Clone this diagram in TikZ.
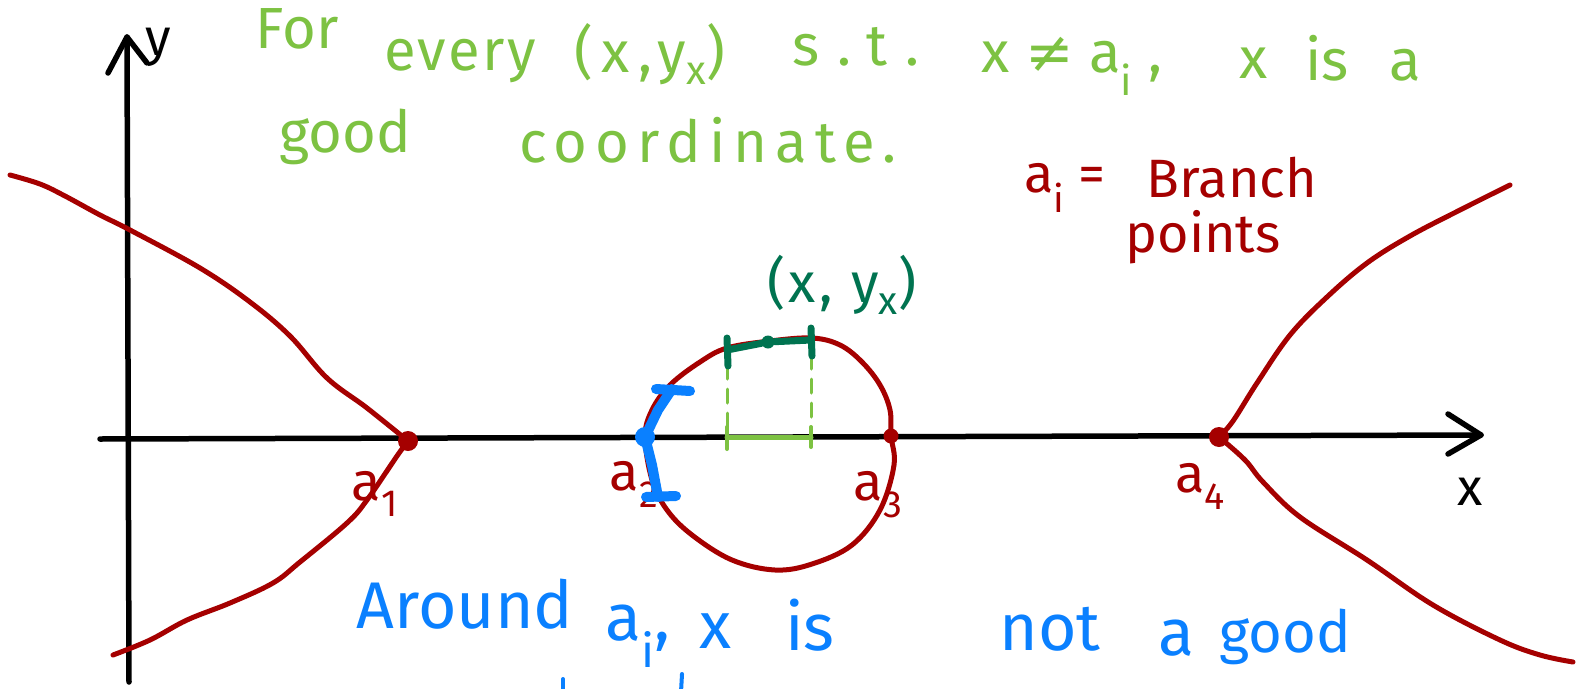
\documentclass[tikz,border=0pt]{standalone}
\usepackage{fontspec}
\setmainfont{Fira Sans}
\newfontfamily\symfont{DejaVu Sans}
\definecolor{bred}{RGB}{165,0,0}
\definecolor{lgreen}{RGB}{125,194,66}
\definecolor{dgreen}{RGB}{0,115,80}
\definecolor{bblue}{RGB}{10,128,255}
\newcommand{\spread}[1]{\addfontfeature{LetterSpace=#1}}
\tikzset{
  redline/.style={draw=bred, line width=5pt, line cap=round, line join=round},
  axisline/.style={draw=black, line width=5.5pt, line cap=round, line join=round},
  reddot/.style={circle, fill=bred, inner sep=0pt, minimum size=#1},
  reddot/.default=20pt,
  gtext/.style={text=lgreen, font=\fontsize{58}{60}\selectfont, anchor=base, inner sep=0pt},
  rtext/.style={text=bred, font=\fontsize{54}{56}\selectfont, anchor=base, inner sep=0pt},
  btext/.style={text=bblue, font=\fontsize{66}{70}\selectfont, anchor=base, inner sep=0pt},
  dgtext/.style={text=dgreen, font=\fontsize{56}{58}\selectfont, anchor=base, inner sep=0pt},
  ktext/.style={text=black, font=\fontsize{52}{54}\selectfont, anchor=base, inner sep=0pt},
  blueseg/.style={draw=bblue, line width=10pt, line cap=round, line join=round},
  dgseg/.style={draw=dgreen, line width=7pt, line cap=round, line join=round},
  lgseg/.style={draw=lgreen, line width=4pt, line cap=round},
}
\begin{document}
\begin{tikzpicture}[x=1pt,y=-1pt]
\useasboundingbox (0,0) rectangle (1578,688);
\clip (0,0) rectangle (1578,688);
\fill[white] (0,0) rectangle (1578,688);

% axes
\coordinate (xs) at (100,439);
\coordinate (xe) at (1481,435);
\coordinate (ys) at (129,682);
\coordinate (ye) at (127,37);
\draw[axisline] (xs) -- (xe);
\draw[axisline] (xe) ++(-33,-21) -- (xe) -- ++(-33,19);
\draw[axisline] (ys) -- (ye);
\draw[axisline] (ye) ++(-19,36) -- (ye) -- ++(20,26);
\node[ktext] (ylab) at (158,55) {y};
\node[ktext] (xlab) at (1470,505) {x};

% branch points
\node[reddot] (a1) at (408,441) {};
\node[reddot=15pt] (a2) at (645,437) {};
\node[reddot=15pt] (a3) at (891,436) {};
\node[reddot] (a4) at (1219,437) {};

% left curve
\draw[redline] plot[smooth, tension=0.6] coordinates {(10,175) (40,184) (65,196) (100,215) (130,230) (200,268) (250,302) (290,336) (327,378) (367,408) (a1)};
\draw[redline] plot[smooth, tension=0.6] coordinates {(a1) (397,456) (367,500) (347,523) (300,562) (273,583) (230,603) (187,620) (150,640) (113,655)};

% right curve
\draw[redline] plot[smooth, tension=0.6] coordinates {(a4) (1233,421) (1257,383) (1290,335) (1327,297) (1367,263) (1410,236) (1460,210) (1510,185)};
\draw[redline] plot[smooth, tension=0.6] coordinates {(a4) (1245,460) (1263,482) (1300,517) (1367,560) (1433,605) (1500,640) (1540,655) (1573,662)};

% loop through a2 and a3
\draw[redline] plot[smooth cycle, tension=0.6] coordinates {(a2) (652,410) (670,385) (700,362) (727,348) (770,341) (812,338) (840,345) (862,362) (880,385) (890,410) (a3) (894,465) (880,510) (852,545) (812,564) (775,570) (732,560) (692,535) (667,510) (652,480)};

% light green projection
\coordinate (p1) at (727,437);
\coordinate (p2) at (811,437);
\coordinate (q1) at (727,350);
\coordinate (q2) at (811,340);
\draw[lgseg, dash pattern=on 14pt off 10pt, line width=3pt] (q1) ++(0,15) -- (p1);
\draw[lgseg, dash pattern=on 14pt off 10pt, line width=3pt] (q2) ++(0,15) -- (p2);
\draw[lgseg, line width=5pt] (p1) -- (p2);
\draw[lgseg] (p1) ++(0,-10) -- ++(0,22);
\draw[lgseg] (p2) ++(0,-10) -- ++(0,20);

% dark green segment on the curve
\node[circle, fill=dgreen, inner sep=0pt, minimum size=13pt] (mid) at (768,342) {};
\draw[dgseg] (q1) -- (mid) -- (q2);
\draw[dgseg] (q1) ++(0,-12) -- ++(1,28);
\draw[dgseg] (q2) ++(0,-12) -- ++(1,28);

% red labels
\node[rtext] (la1) at (375,500) {a\textsubscript{1}};
\node[rtext] (la2) at (634,490) {a\textsubscript{2}};
\node[rtext] (la3) at (878,500) {a\textsubscript{3}};
\node[rtext] (la4) at (1200,492) {a\textsubscript{4}};

% blue segment around a2
\coordinate (b1) at (672,389);
\coordinate (b2) at (658,497);
\draw[blueseg] (b1) -- (658,410) -- (a2) -- (652,465) -- (b2);
\draw[blueseg] (b1) ++(-16,0) -- ++(34,2);
\draw[blueseg] (b2) ++(-12,0) -- ++(30,-1);
\node[circle, fill=bblue, inner sep=0pt, minimum size=20pt] (bd) at (a2) {};

% dark green label
\node[dgtext] (pt) at (842,302) {\spread{6}(x, y\textsubscript{x})};

% green text
\node[gtext] (g1) at (297,48) {For};
\node[gtext] (g2) at (460,70) {\spread{4}every};
\node[gtext] (g3) at (650,72) {\spread{14}(x,y\textsubscript{x})};
\node[gtext] (g4) at (856,65) {\spread{30}s.t.};
\node[gtext] (g5) at (1072,72) {x {\symfont ≠} a\textsubscript{i} ,};
\node[gtext] (g6) at (1254,78) {x};
\node[gtext] (g7) at (1327,80) {is};
\node[gtext] (g8) at (1405,80) {a};
\node[gtext] (g9) at (345,152) {good};
\node[gtext] (g10) at (708,162) {\spread{14}coordinate.};

% red text
\node[rtext] (r1) at (1065,192) {a\textsubscript{i} =};
\node[rtext] (r2) at (1232,197) {Branch};
\node[rtext] (r3) at (1203,252) {points};

% blue text
\node[btext] (t1) at (465,628) {Around};
\node[btext] (t2) at (638,640) {a\textsubscript{i},};
\node[btext] (t3) at (715,648) {x};
\node[btext] (t4) at (810,650) {is};
\node[btext] (t5) at (1050,650) {not};
\node[btext] (t6) at (1176,655) {a};
\node[btext, font=\fontsize{58}{60}\selectfont] (t7) at (1285,652) {good};
% tops of the next (cut-off) line
\draw[draw=bblue, line width=4pt, line cap=round] (563,679) -- (563,692);
\draw[draw=bblue, line width=4pt, line cap=round] (682,674) -- (681,692);
\end{tikzpicture}
\end{document}
